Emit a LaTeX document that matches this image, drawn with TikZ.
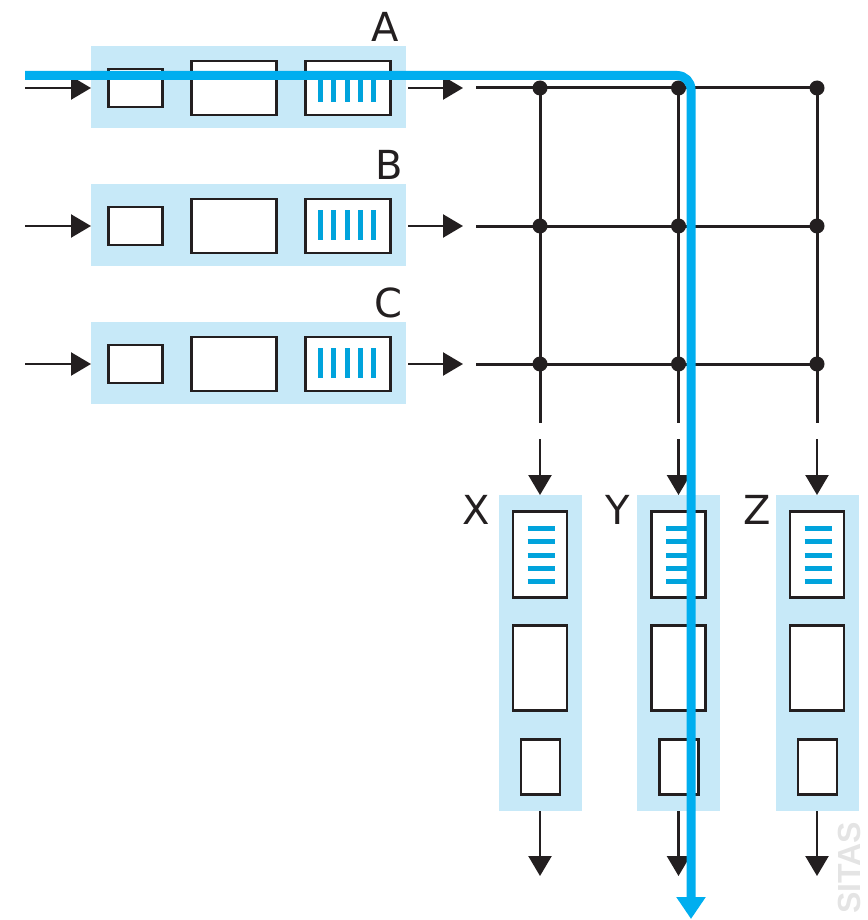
\documentclass[tikz,border=0pt]{standalone}
\usepackage{fontspec}
\setmainfont{DejaVu Sans}
\newfontfamily\wmfont{Liberation Sans}
\usetikzlibrary{arrows.meta}
\definecolor{ink}{HTML}{231F20}
\definecolor{flow}{HTML}{00AEEF}
\definecolor{panecol}{HTML}{C7E9F8}
\definecolor{barblue}{HTML}{00A3DC}
\definecolor{wmgray}{HTML}{E4E4E4}
\begin{document}
\begin{tikzpicture}[x=1pt,y=-1pt,
  pane/.style={fill=panecol, draw=none, inner sep=0pt, outer sep=0pt},
  cell/.style={draw=ink, line width=2.6pt, fill=white, inner sep=0pt, outer sep=0pt},
  flowarrow/.style={draw=ink, line width=2.4pt, -{Triangle[length=20pt,width=23pt]}},
  gridline/.style={draw=ink, line width=3pt},
  junction/.style={circle, fill=ink, inner sep=0pt, minimum size=15pt},
  lbl/.style={font=\fontsize{40}{40}\selectfont, text=ink, inner sep=0pt},
  bar/.style={draw=barblue, line width=5pt},
  pathline/.style={draw=flow, line width=9pt, rounded corners=14pt, -{Triangle[length=22pt,width=28pt]}},
]
\useasboundingbox (0,0) rectangle (867,920);

% watermark
\node[rotate=90, anchor=north west, inner sep=0pt, text=wmgray, font=\wmfont\bfseries\fontsize{32}{32}\selectfont] (wm) at (838,914) {SITAS};

% input rows
\foreach \n/\y/\lx in {A/88/399,B/226/403,C/364/403}{
  \node[pane, minimum width=315pt, minimum height=82pt] (pane\n) at (248.5,\y-1) {};
  \node[cell, minimum width=54pt, minimum height=38pt] (in\n) at (135.5,\y) {};
  \node[cell, minimum width=85pt, minimum height=54pt] (mid\n) at (234,\y) {};
  \node[cell, minimum width=85pt, minimum height=54pt] (out\n) at (348,\y) {};
  \foreach \bx in {320.5,333.8,347.1,360.4,373.7}{
    \draw[bar] (\bx,\y-16) -- (\bx,\y+14);
  }
  \node[lbl, anchor=north east] (lab\n) at (\lx,\y-76) {\n};
  \coordinate (src\n) at (25,\y);
  \coordinate (outtip\n) at (463,\y);
  \coordinate (busstart\n) at (476,\y);
  \coordinate (busend\n) at (817,\y);
  \draw[flowarrow] (src\n) -- (pane\n.west |- src\n);
  \draw[flowarrow] ([xshift=2pt]pane\n.east |- src\n) -- (outtip\n);
  \draw[gridline] (busstart\n) -- (busend\n);
}

% output columns
\foreach \n/\c/\lx in {X/540/490,Y/678.5/630,Z/817/771}{
  \node[pane, minimum width=83pt, minimum height=316pt] (pane\n) at (\c,653) {};
  \node[cell, minimum width=54pt, minimum height=86pt] (top\n) at (\c,554.5) {};
  \node[cell, minimum width=54pt, minimum height=85pt] (midc\n) at (\c,668) {};
  \node[cell, minimum width=39pt, minimum height=55pt] (bot\n) at (\c+0.5,767) {};
  \foreach \by in {528.5,541.8,555.1,568.4,581.7}{
    \draw[bar] (\c-12.5,\by) -- (\c+14.5,\by);
  }
  \node[lbl, anchor=north east] (lab\n) at (\lx,495) {\n};
  \coordinate (colbot\n) at (\c,423);
  \coordinate (colin\n) at (\c,439);
  \coordinate (colout\n) at (\c,876);
  \draw[gridline] (\c,88) -- (colbot\n);
  \draw[flowarrow] (colin\n) -- (pane\n.north);
  \draw[flowarrow] (pane\n.south) -- (colout\n);
}

% junctions
\foreach \n/\c in {X/540,Y/678.5,Z/817}{
  \foreach \r/\y in {A/88,B/226,C/364}{
    \node[junction] (j\r\n) at (\c,\y) {};
  }
}

% highlighted path
\coordinate (pstart) at (25,75.5);
\coordinate (pcorner) at (691,75.5);
\coordinate (pend) at (691,919);
\draw[pathline] (pstart) -- (pcorner) -- (pend);
\end{tikzpicture}
\end{document}
